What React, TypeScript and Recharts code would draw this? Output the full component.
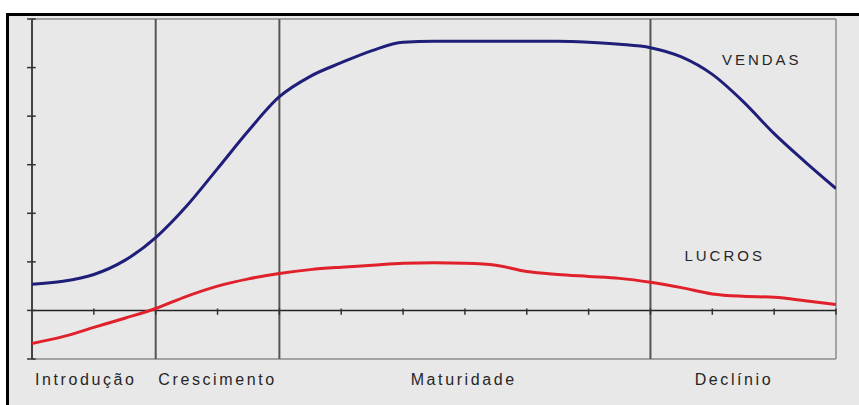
import React from "react";
import { LineChart, Line, XAxis, YAxis, ReferenceLine, ReferenceDot } from "recharts";

const periods = [0, 0.5, 1, 1.5, 2, 2.5, 3, 3.5, 4, 4.5, 5, 5.5, 6, 6.5, 7, 7.5, 8, 8.5, 9, 9.5, 10, 10.5, 11, 11.5, 12, 12.5, 13];
const vendas = [0.54, 0.6, 0.74, 1.03, 1.5, 2.15, 2.92, 3.7, 4.4, 4.82, 5.1, 5.35, 5.52, 5.54, 5.54, 5.54, 5.54, 5.54, 5.52, 5.48, 5.41, 5.22, 4.86, 4.3, 3.64, 3.06, 2.51];
const lucros = [-0.68, -0.54, -0.35, -0.16, 0.04, 0.29, 0.5, 0.65, 0.76, 0.84, 0.89, 0.93, 0.97, 0.98, 0.97, 0.93, 0.8, 0.74, 0.7, 0.66, 0.58, 0.47, 0.34, 0.29, 0.27, 0.2, 0.12];

const phaseLabels = ["Introdução", "Crescimento", "Maturidade", "Declínio"];
const phaseLabelPos = [0.87, 3, 6.98, 11.35];
const phaseBoundaries = [2, 4, 10];
const xTicks = [1, 2, 3, 4, 5, 6, 7, 8, 9, 10, 11, 12, 13];
const yTicks = [-1, 0, 1, 2, 3, 4, 5, 6];

const data = periods.map((p, i) => ({ p, vendas: vendas[i], lucros: lucros[i] }));

const FONT = "'Liberation Sans', Arial, sans-serif";

export default function App() {
  return (
    <div style={{ position: "absolute", left: 0, top: 0, width: 859, height: 405, background: "#fff" }}>
      <div
        style={{
          position: "absolute",
          left: 6,
          top: 13,
          width: 853,
          height: 392,
          background: "#e8e8e8",
          borderTop: "3px solid #000",
          borderLeft: "3px solid #000",
          boxSizing: "border-box",
        }}
      />
      <div style={{ position: "absolute", left: 0, top: 0 }}>
        <LineChart width={859} height={405} data={data} margin={{ top: 19, right: 23, left: 32, bottom: 0 }}>
          <XAxis
            dataKey="p"
            type="number"
            domain={[0, 13]}
            allowDataOverflow
            ticks={phaseLabelPos}
            tickFormatter={(v: number) => phaseLabels[phaseLabelPos.indexOf(v)] ?? ""}
            axisLine={false}
            tickLine={false}
            height={46}
            interval={0}
            tick={{ fill: "#262626", fontSize: 16, fontFamily: FONT, letterSpacing: 2.6 }}
            tickMargin={9}
          />
          <YAxis hide type="number" domain={[-1, 6]} allowDataOverflow />
          <ReferenceLine y={6} stroke="#8c8c8c" strokeWidth={1.5} ifOverflow="visible" />
          <ReferenceLine y={-1} stroke="#8c8c8c" strokeWidth={1.5} ifOverflow="visible" />
          <ReferenceLine x={13} stroke="#8c8c8c" strokeWidth={1.5} ifOverflow="visible" />
          <ReferenceLine x={0} stroke="#444" strokeWidth={2} ifOverflow="visible" />
          <ReferenceLine y={0} stroke="#222" strokeWidth={1.5} ifOverflow="visible" />
          {phaseBoundaries.map((b) => (
            <ReferenceLine key={"b" + b} x={b} stroke="#555" strokeWidth={2} ifOverflow="visible" />
          ))}
          {yTicks.map((t) => (
            <ReferenceLine
              key={"yt" + t}
              segment={[{ x: -0.08, y: t }, { x: 0.06, y: t }]}
              stroke="#333"
              strokeWidth={1.5}
              ifOverflow="visible"
            />
          ))}
          {xTicks.map((t) => (
            <ReferenceLine
              key={"xt" + t}
              segment={[{ x: t, y: -0.09 }, { x: t, y: 0.04 }]}
              stroke="#333"
              strokeWidth={1.5}
              ifOverflow="visible"
            />
          ))}
          <Line type="monotone" dataKey="vendas" stroke="#1f1f7a" strokeWidth={3} dot={false} isAnimationActive={false} />
          <Line type="monotone" dataKey="lucros" stroke="#e0202a" strokeWidth={3} dot={false} isAnimationActive={false} />
          <ReferenceDot
            x={11.8}
            y={5.17}
            r={0}
            stroke="none"
            fill="none"
            label={{ value: "VENDAS", position: "center", fill: "#262626", fontSize: 15, fontFamily: FONT, letterSpacing: 3 }}
          />
          <ReferenceDot
            x={11.2}
            y={1.13}
            r={0}
            stroke="none"
            fill="none"
            label={{ value: "LUCROS", position: "center", fill: "#262626", fontSize: 15, fontFamily: FONT, letterSpacing: 3 }}
          />
        </LineChart>
      </div>
    </div>
  );
}
